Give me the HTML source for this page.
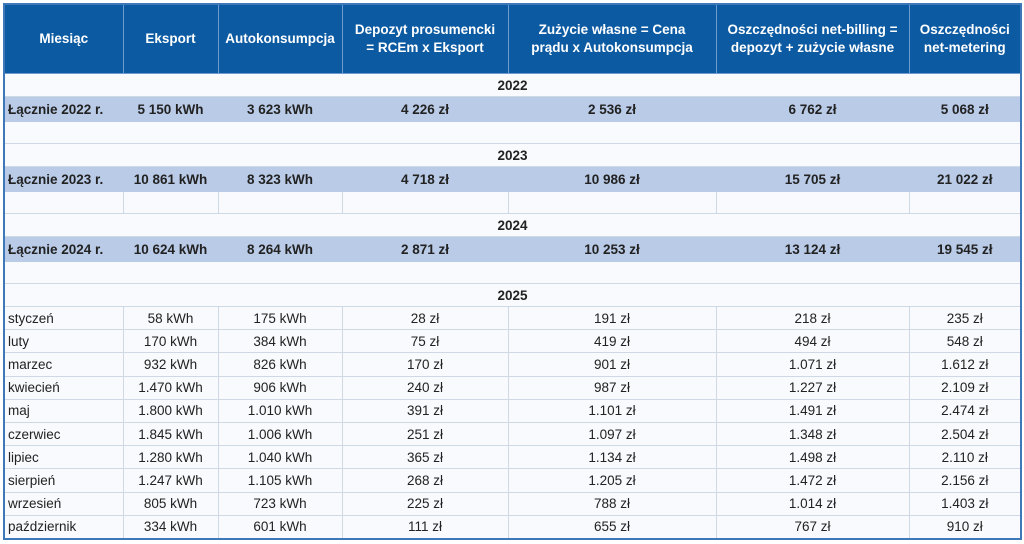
<!DOCTYPE html>
<html><head><meta charset="utf-8"><style>
html,body{margin:0;padding:0;background:#fff;width:1024px;height:544px;overflow:hidden}
table{position:absolute;left:3px;top:3px;width:1017px;border-collapse:collapse;table-layout:fixed;font-family:"Liberation Sans",sans-serif;font-size:13.5px;color:#222;border:2px solid #3f78b8;background:#f8fafd}
td,th{border:1px solid #cfd9e6;padding:0;text-align:center;overflow:hidden;white-space:nowrap}
th{background:#0c5aa2;color:#fff;font-weight:bold;height:68px;border-color:#6f9cd0;line-height:18px;font-size:13.5px}
tr.y td{font-weight:bold;height:22px}
tr.t td{background:#b9cbe7;font-weight:bold;height:24px;border-color:#b9cbe7}
tr.e td{height:21px}
tr.d td{height:22.2px}
tr.d td:first-child{text-align:left;padding-left:3px}
tr.t td:first-child{text-align:left;padding-left:3px}
</style></head><body>
<table>
<colgroup><col style="width:119px"><col style="width:95px"><col style="width:124px"><col style="width:166px"><col style="width:208px"><col style="width:193px"><col style="width:112px"></colgroup>
<tr><th>Miesiąc</th><th>Eksport</th><th>Autokonsumpcja</th><th>Depozyt prosumencki<br>= RCEm x Eksport</th><th>Zużycie własne = Cena<br>prądu x Autokonsumpcja</th><th>Oszczędności net-billing =<br>depozyt + zużycie własne</th><th>Oszczędności<br>net-metering</th></tr>
<tr class="y"><td colspan="7">2022</td></tr>
<tr class="t"><td>Łącznie 2022 r.</td><td>5 150 kWh</td><td>3 623 kWh</td><td>4 226 zł</td><td>2 536 zł</td><td>6 762 zł</td><td>5 068 zł</td></tr>
<tr class="e"><td colspan="7"></td></tr>
<tr class="y"><td colspan="7">2023</td></tr>
<tr class="t"><td>Łącznie 2023 r.</td><td>10 861 kWh</td><td>8 323 kWh</td><td>4 718 zł</td><td>10 986 zł</td><td>15 705 zł</td><td>21 022 zł</td></tr>
<tr class="e"><td></td><td></td><td></td><td></td><td></td><td></td><td></td></tr>
<tr class="y"><td colspan="7">2024</td></tr>
<tr class="t"><td>Łącznie 2024 r.</td><td>10 624 kWh</td><td>8 264 kWh</td><td>2 871 zł</td><td>10 253 zł</td><td>13 124 zł</td><td>19 545 zł</td></tr>
<tr class="e"><td colspan="7"></td></tr>
<tr class="y"><td colspan="7">2025</td></tr>
<tr class="d"><td>styczeń</td><td>58 kWh</td><td>175 kWh</td><td>28 zł</td><td>191 zł</td><td>218 zł</td><td>235 zł</td></tr>
<tr class="d"><td>luty</td><td>170 kWh</td><td>384 kWh</td><td>75 zł</td><td>419 zł</td><td>494 zł</td><td>548 zł</td></tr>
<tr class="d"><td>marzec</td><td>932 kWh</td><td>826 kWh</td><td>170 zł</td><td>901 zł</td><td>1.071 zł</td><td>1.612 zł</td></tr>
<tr class="d"><td>kwiecień</td><td>1.470 kWh</td><td>906 kWh</td><td>240 zł</td><td>987 zł</td><td>1.227 zł</td><td>2.109 zł</td></tr>
<tr class="d"><td>maj</td><td>1.800 kWh</td><td>1.010 kWh</td><td>391 zł</td><td>1.101 zł</td><td>1.491 zł</td><td>2.474 zł</td></tr>
<tr class="d"><td>czerwiec</td><td>1.845 kWh</td><td>1.006 kWh</td><td>251 zł</td><td>1.097 zł</td><td>1.348 zł</td><td>2.504 zł</td></tr>
<tr class="d"><td>lipiec</td><td>1.280 kWh</td><td>1.040 kWh</td><td>365 zł</td><td>1.134 zł</td><td>1.498 zł</td><td>2.110 zł</td></tr>
<tr class="d"><td>sierpień</td><td>1.247 kWh</td><td>1.105 kWh</td><td>268 zł</td><td>1.205 zł</td><td>1.472 zł</td><td>2.156 zł</td></tr>
<tr class="d"><td>wrzesień</td><td>805 kWh</td><td>723 kWh</td><td>225 zł</td><td>788 zł</td><td>1.014 zł</td><td>1.403 zł</td></tr>
<tr class="d"><td>październik</td><td>334 kWh</td><td>601 kWh</td><td>111 zł</td><td>655 zł</td><td>767 zł</td><td>910 zł</td></tr>
</table>
</body></html>
